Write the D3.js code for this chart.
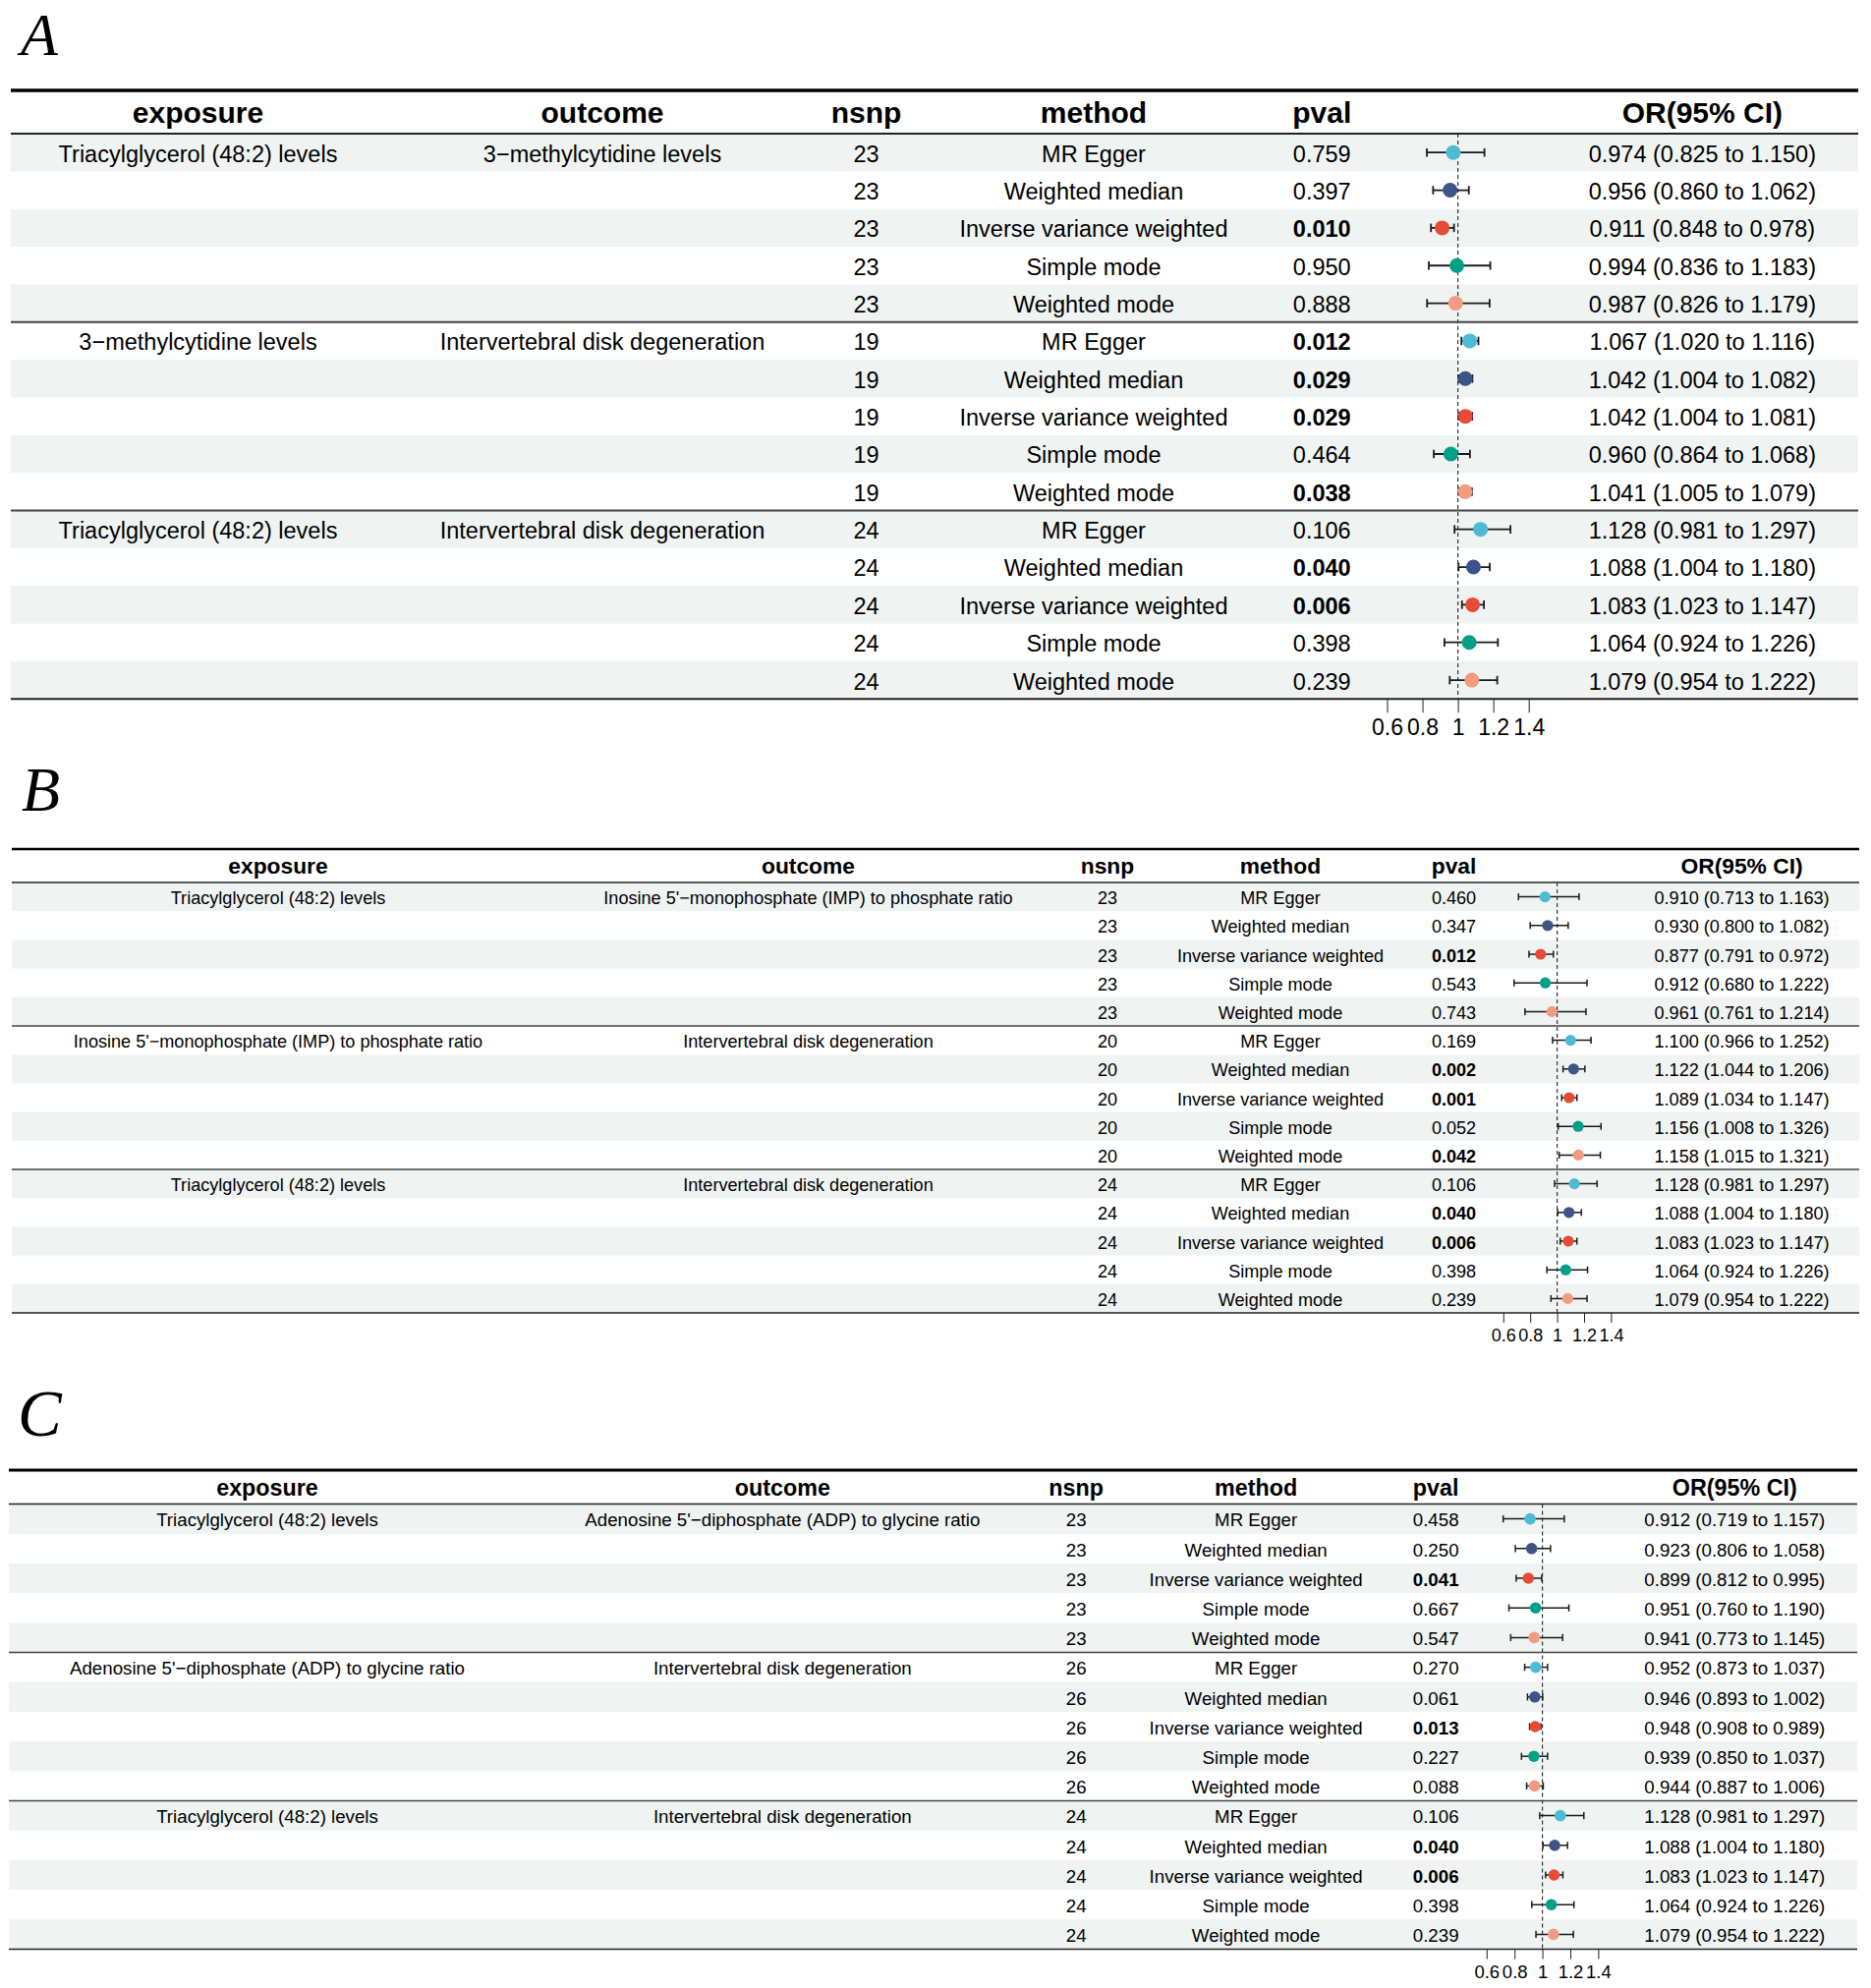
<!DOCTYPE html>
<html>
<head>
<meta charset="utf-8">
<script src="https://cdn.jsdelivr.net/npm/d3@7"></script>
<style>
  html, body { margin: 0; padding: 0; background: #ffffff; }
  svg { display: block; }
</style>
</head>
<body>
<svg id="chart" width="1904" height="2023"></svg>
<script>
// ---------------- DATA ----------------
const methods = ["MR Egger", "Weighted median", "Inverse variance weighted", "Simple mode", "Weighted mode"];
const headers = ["exposure", "outcome", "nsnp", "method", "pval", "", "OR(95% CI)"];
const xTicks = [0.6, 0.8, 1, 1.2, 1.4];
const xTickLabels = ["0.6", "0.8", "1", "1.2", "1.4"];
const panelLetters = ["A", "B", "C"];

// Panel A
const aExposure = ["Triacylglycerol (48:2) levels", "3\u2212methylcytidine levels", "Triacylglycerol (48:2) levels"];
const aOutcome = ["3\u2212methylcytidine levels", "Intervertebral disk degeneration", "Intervertebral disk degeneration"];
const aNsnp = [23, 19, 24];
const aPval = [0.759, 0.397, 0.010, 0.950, 0.888, 0.012, 0.029, 0.029, 0.464, 0.038, 0.106, 0.040, 0.006, 0.398, 0.239];
const aOR = [0.974, 0.956, 0.911, 0.994, 0.987, 1.067, 1.042, 1.042, 0.960, 1.041, 1.128, 1.088, 1.083, 1.064, 1.079];
const aLower = [0.825, 0.860, 0.848, 0.836, 0.826, 1.020, 1.004, 1.004, 0.864, 1.005, 0.981, 1.004, 1.023, 0.924, 0.954];
const aUpper = [1.150, 1.062, 0.978, 1.183, 1.179, 1.116, 1.082, 1.081, 1.068, 1.079, 1.297, 1.180, 1.147, 1.226, 1.222];

// Panel B
const bExposure = ["Triacylglycerol (48:2) levels", "Inosine 5'\u2212monophosphate (IMP) to phosphate ratio", "Triacylglycerol (48:2) levels"];
const bOutcome = ["Inosine 5'\u2212monophosphate (IMP) to phosphate ratio", "Intervertebral disk degeneration", "Intervertebral disk degeneration"];
const bNsnp = [23, 20, 24];
const bPval = [0.460, 0.347, 0.012, 0.543, 0.743, 0.169, 0.002, 0.001, 0.052, 0.042, 0.106, 0.040, 0.006, 0.398, 0.239];
const bOR = [0.910, 0.930, 0.877, 0.912, 0.961, 1.100, 1.122, 1.089, 1.156, 1.158, 1.128, 1.088, 1.083, 1.064, 1.079];
const bLower = [0.713, 0.800, 0.791, 0.680, 0.761, 0.966, 1.044, 1.034, 1.008, 1.015, 0.981, 1.004, 1.023, 0.924, 0.954];
const bUpper = [1.163, 1.082, 0.972, 1.222, 1.214, 1.252, 1.206, 1.147, 1.326, 1.321, 1.297, 1.180, 1.147, 1.226, 1.222];

// Panel C
const cExposure = ["Triacylglycerol (48:2) levels", "Adenosine 5'\u2212diphosphate (ADP) to glycine ratio", "Triacylglycerol (48:2) levels"];
const cOutcome = ["Adenosine 5'\u2212diphosphate (ADP) to glycine ratio", "Intervertebral disk degeneration", "Intervertebral disk degeneration"];
const cNsnp = [23, 26, 24];
const cPval = [0.458, 0.250, 0.041, 0.667, 0.547, 0.270, 0.061, 0.013, 0.227, 0.088, 0.106, 0.040, 0.006, 0.398, 0.239];
const cOR = [0.912, 0.923, 0.899, 0.951, 0.941, 0.952, 0.946, 0.948, 0.939, 0.944, 1.128, 1.088, 1.083, 1.064, 1.079];
const cLower = [0.719, 0.806, 0.812, 0.760, 0.773, 0.873, 0.893, 0.908, 0.850, 0.887, 0.981, 1.004, 1.023, 0.924, 0.954];
const cUpper = [1.157, 1.058, 0.995, 1.190, 1.145, 1.037, 1.002, 0.989, 1.037, 1.006, 1.297, 1.180, 1.147, 1.226, 1.222];

// ---------------- STYLE / LAYOUT ----------------
const methodColors = ["#4DBBD5", "#3C5488", "#E64B35", "#00A087", "#F39B7F"];
const bandFill = "#eff3f2";
const FONT = "'Liberation Sans', Arial, sans-serif";

const panels = [
  { letter: panelLetters[0], exposure: aExposure, outcome: aOutcome, nsnp: aNsnp, pval: aPval, or: aOR, lo: aLower, hi: aUpper,
    L: { letterX: 21, letterY: 55.5, letterSize: 62,
         cols: [11, 392, 834, 929, 1297, 1393.5, 1573.7, 1891],
         top: 92, hb: 136, rowH: 38.35, body: 23.5, head: 30, tick: 23, r: 7.5, cap: 4.3, ciW: 1.8,
         topW: 3.5, lineW: 2, tickLen: 14, tickPad: 6 } },
  { letter: panelLetters[1], exposure: bExposure, outcome: bOutcome, nsnp: bNsnp, pval: bPval, or: bOR, lo: bLower, hi: bUpper,
    L: { letterX: 22, letterY: 825, letterSize: 64,
         cols: [12, 554, 1091, 1163, 1443, 1516.1, 1653.1, 1892],
         top: 864, hb: 898, rowH: 29.2, body: 18.1, head: 22.8, tick: 18, r: 5.6, cap: 3.5, ciW: 1.5,
         topW: 2.7, lineW: 1.6, tickLen: 10, tickPad: 6 } },
  { letter: panelLetters[2], exposure: cExposure, outcome: cOutcome, nsnp: cNsnp, pval: cPval, or: cOR, lo: cLower, hi: cUpper,
    L: { letterX: 18, letterY: 1461, letterSize: 67,
         cols: [9, 535, 1057.7, 1132.6, 1423.7, 1498.6, 1640.6, 1890],
         top: 1496, hb: 1530.5, rowH: 30.2, body: 18.7, head: 23.3, tick: 18.5, r: 5.8, cap: 3.6, ciW: 1.5,
         topW: 2.8, lineW: 1.6, tickLen: 10, tickPad: 6 } }
];

const svg = d3.select("#chart");
svg.append("rect").attr("width", 1904).attr("height", 2023).attr("fill", "#ffffff");

function drawPanel(p) {
  const L = p.L;
  const g = svg.append("g");
  const nRows = p.pval.length;
  const left = L.cols[0], right = L.cols[L.cols.length - 1];
  const bottom = L.hb + nRows * L.rowH;
  const colCenter = i => (L.cols[i] + L.cols[i + 1]) / 2;
  const rowY = i => L.hb + i * L.rowH;
  const baseOff = f => 0.36 * f + 1;

  // panel letter
  g.append("text").attr("x", L.letterX).attr("y", L.letterY)
    .attr("font-family", "'Liberation Serif', 'Times New Roman', serif")
    .attr("font-style", "italic").attr("font-size", L.letterSize).attr("fill", "#000")
    .text(p.letter);

  // row bands
  g.selectAll("rect.band").data(d3.range(nRows).filter(i => i % 2 === 0)).join("rect")
    .attr("class", "band").attr("x", left).attr("width", right - left)
    .attr("y", i => rowY(i)).attr("height", L.rowH).attr("fill", bandFill);

  // headers
  const headCenterY = (L.top + L.hb) / 2;
  g.selectAll("text.head").data(headers).join("text").attr("class", "head")
    .attr("x", (d, i) => colCenter(i)).attr("y", headCenterY + 0.36 * L.head)
    .attr("text-anchor", "middle").attr("font-family", FONT).attr("font-weight", "bold")
    .attr("font-size", L.head).attr("fill", "#000").text(d => d);

  // body rows
  const rows = d3.range(nRows).map(i => {
    const grp = Math.floor(i / methods.length), k = i % methods.length;
    return {
      i, grp, k,
      exposure: k === 0 ? p.exposure[grp] : "",
      outcome: k === 0 ? p.outcome[grp] : "",
      nsnp: String(p.nsnp[grp]),
      method: methods[k],
      pval: p.pval[i].toFixed(3),
      bold: p.pval[i] < 0.05,
      ortext: `${p.or[i].toFixed(3)} (${p.lo[i].toFixed(3)} to ${p.hi[i].toFixed(3)})`,
      or: p.or[i], lo: p.lo[i], hi: p.hi[i], color: methodColors[k]
    };
  });

  const cellCols = [
    { key: "exposure", col: 0 }, { key: "outcome", col: 1 }, { key: "nsnp", col: 2 },
    { key: "method", col: 3 }, { key: "pval", col: 4 }, { key: "ortext", col: 6 }
  ];
  cellCols.forEach(c => {
    g.selectAll("text.c" + c.key).data(rows.filter(d => d[c.key] !== "")).join("text").attr("class", "c" + c.key)
      .attr("x", colCenter(c.col))
      .attr("y", d => rowY(d.i) + L.rowH / 2 + baseOff(L.body))
      .attr("text-anchor", "middle").attr("font-family", FONT)
      .attr("font-weight", d => (c.key === "pval" && d.bold) ? "bold" : "normal")
      .attr("font-size", L.body).attr("fill", "#000")
      .text(d => d[c.key]);
  });

  // forest
  const x = d3.scaleLinear().domain([0.5, 1.5]).range([L.cols[5], L.cols[6]]);
  g.append("line").attr("x1", x(1)).attr("x2", x(1)).attr("y1", L.hb).attr("y2", bottom)
    .attr("stroke", "#333").attr("stroke-width", 1.2).attr("stroke-dasharray", "4,3");

  const fg = g.selectAll("g.ci").data(rows).join("g").attr("class", "ci")
    .attr("transform", d => `translate(0,${rowY(d.i) + L.rowH / 2})`);
  fg.append("line").attr("x1", d => x(d.lo)).attr("x2", d => x(d.hi))
    .attr("stroke", "#1a1a1a").attr("stroke-width", L.ciW);
  fg.append("line").attr("x1", d => x(d.lo)).attr("x2", d => x(d.lo)).attr("y1", -L.cap).attr("y2", L.cap)
    .attr("stroke", "#1a1a1a").attr("stroke-width", L.ciW);
  fg.append("line").attr("x1", d => x(d.hi)).attr("x2", d => x(d.hi)).attr("y1", -L.cap).attr("y2", L.cap)
    .attr("stroke", "#1a1a1a").attr("stroke-width", L.ciW);
  fg.append("circle").attr("cx", d => x(d.or)).attr("cy", 0).attr("r", L.r).attr("fill", d => d.color);

  // horizontal rules
  g.append("line").attr("x1", left).attr("x2", right).attr("y1", L.top).attr("y2", L.top)
    .attr("stroke", "#000").attr("stroke-width", L.topW);
  g.append("line").attr("x1", left).attr("x2", right).attr("y1", L.hb).attr("y2", L.hb)
    .attr("stroke", "#222").attr("stroke-width", L.lineW);
  [1, 2].forEach(grp => {
    const y = rowY(grp * methods.length);
    g.append("line").attr("x1", left).attr("x2", right).attr("y1", y).attr("y2", y)
      .attr("stroke", "#444").attr("stroke-width", L.lineW);
  });
  g.append("line").attr("x1", left).attr("x2", right).attr("y1", bottom).attr("y2", bottom)
    .attr("stroke", "#222").attr("stroke-width", L.lineW);

  // axis
  const axis = d3.axisBottom(x).tickValues(xTicks)
    .tickFormat((d, i) => xTickLabels[i]).tickSize(L.tickLen).tickPadding(L.tickPad);
  const ag = g.append("g").attr("transform", `translate(0,${bottom})`).call(axis);
  ag.select(".domain").remove();
  ag.selectAll(".tick line").attr("stroke", "#222").attr("stroke-width", 1);
  ag.selectAll(".tick text").attr("font-family", FONT).attr("font-size", L.tick).attr("fill", "#000");
}

panels.forEach(drawPanel);
</script>
</body>
</html>
